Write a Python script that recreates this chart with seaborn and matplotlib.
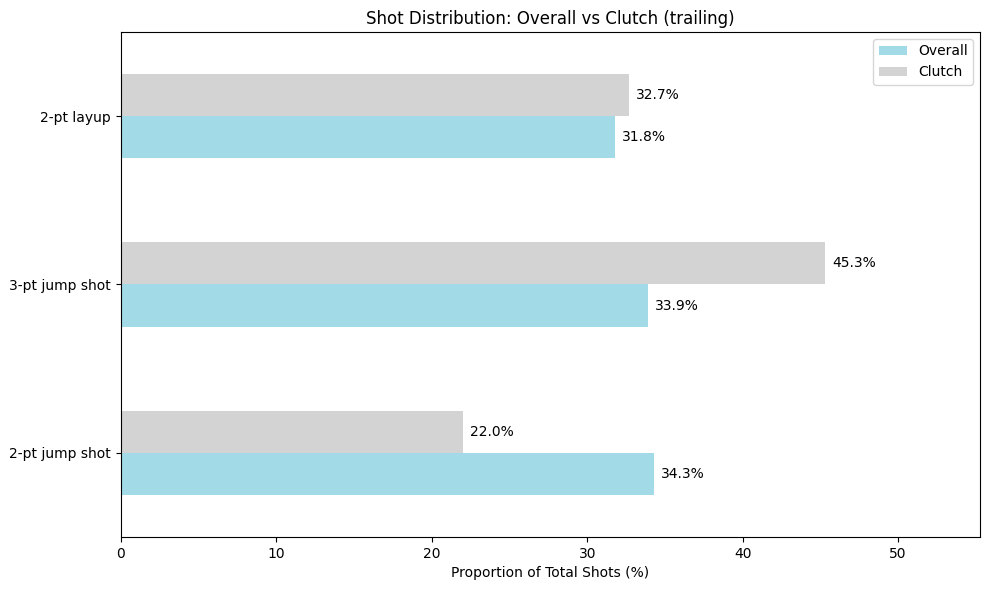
import matplotlib
matplotlib.use("Agg")
import matplotlib.pyplot as plt
import seaborn as sns
import pandas as pd

categories = ["2-pt layup", "3-pt jump shot", "2-pt jump shot"]
overall = [31.8, 33.9, 34.3]
clutch = [32.7, 45.3, 22.0]
series = ["Clutch", "Overall"]
colors = {"Overall": "#a2dae8", "Clutch": "#d3d3d3"}

df = pd.DataFrame({
    "shot": categories * 2,
    "value": clutch + overall,
    "series": ["Clutch"] * 3 + ["Overall"] * 3,
})

fig, ax = plt.subplots(figsize=(9.89, 5.9), dpi=100)
sns.barplot(data=df, y="shot", x="value", hue="series", order=categories,
            hue_order=series, palette=colors, orient="h", width=0.5,
            saturation=1, ax=ax, errorbar=None)

for cont in ax.containers:
    ax.bar_label(cont, labels=[f"{v:.1f}%" for v in cont.datavalues], padding=5, fontsize=10)

ax.set_ylim(2.5, -0.5)
ax.set_xlim(0, max(clutch + overall) * 1.22)
ax.set_xlabel("Proportion of Total Shots (%)")
ax.set_ylabel("")
ax.set_title("Shot Distribution: Overall vs Clutch (trailing)")
handles, labels = ax.get_legend_handles_labels()
order = [labels.index("Overall"), labels.index("Clutch")]
ax.legend([handles[i] for i in order], [labels[i] for i in order], loc="upper right")
fig.subplots_adjust(left=0.1223, right=0.9909, top=0.9458, bottom=0.0898)
fig.savefig("out.png", dpi=100)
